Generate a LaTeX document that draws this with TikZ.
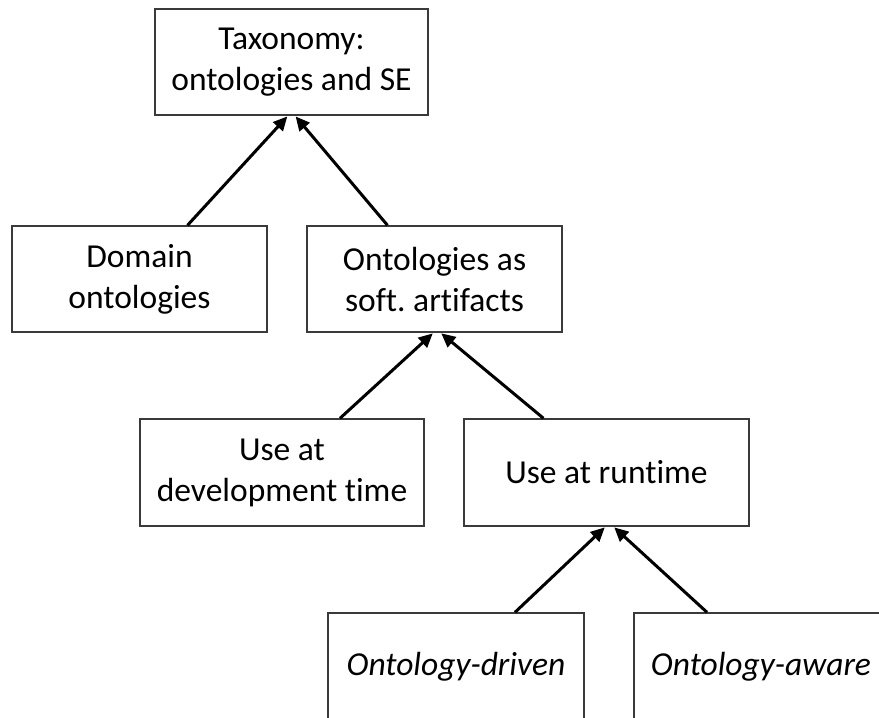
\documentclass[tikz,border=0pt]{standalone}
\usepackage{fontspec}
\setmainfont[Ligatures=NoCommon]{Carlito}
\usetikzlibrary{arrows.meta,calc}
\definecolor{boxline}{HTML}{3A3A3A}
\frenchspacing
\begin{document}
\begin{tikzpicture}[x=1pt,y=-1pt,
  catbox/.style={draw=boxline,line width=1.4pt,rectangle,inner sep=0pt,
    align=center,font=\fontsize{33.5}{41}\selectfont},
  isa/.style={line width=3pt,-{Triangle[length=14pt,width=13pt]},shorten >=1pt}]
\useasboundingbox (0,0) rectangle (879,718);
\clip (0,0) rectangle (879,718);
% hierarchy of categories
\node[catbox,minimum width=273pt,minimum height=106pt] (tax) at (291.5,62)
  {Taxonomy:\\ontologies and SE};
\node[catbox,minimum width=255pt,minimum height=106pt] (dom) at (139.5,279)
  {Domain\\ontologies};
\node[catbox,minimum width=255pt,minimum height=106pt] (soft) at (434.5,279)
  {Ontologies as\\soft. artifacts};
\node[catbox,minimum width=284pt,minimum height=107pt] (dev) at (282,472.5)
  {Use at\\development time};
\node[catbox,minimum width=285pt,minimum height=107pt] (run) at (606.5,472.5)
  {Use at runtime};
\node[catbox,minimum width=256pt,minimum height=107pt,font=\fontsize{33.5}{41}\selectfont\itshape]
  (drv) at (456,666.5) {Ontology-driven};
\node[catbox,minimum width=254pt,minimum height=107pt,font=\fontsize{33.5}{41}\selectfont\itshape]
  (awr) at (761,666.5) {Ontology-aware};
% generalisation arrows
\draw[isa] ($(dom.north)+(48,0)$) -- ($(tax.south)+(-3.5,0)$);
\draw[isa] ($(soft.north)+(-47,0)$) -- ($(tax.south)+(3.5,0)$);
\draw[isa] ($(dev.north)+(58,0)$) -- ($(soft.south)+(-1,0)$);
\draw[isa] ($(run.north)+(-63,0)$) -- ($(soft.south)+(6,0)$);
\draw[isa] ($(drv.north)+(59,0)$) -- ($(run.south)+(-1,0)$);
\draw[isa] ($(awr.north)+(-54,0)$) -- ($(run.south)+(7,0)$);
\end{tikzpicture}
\end{document}
